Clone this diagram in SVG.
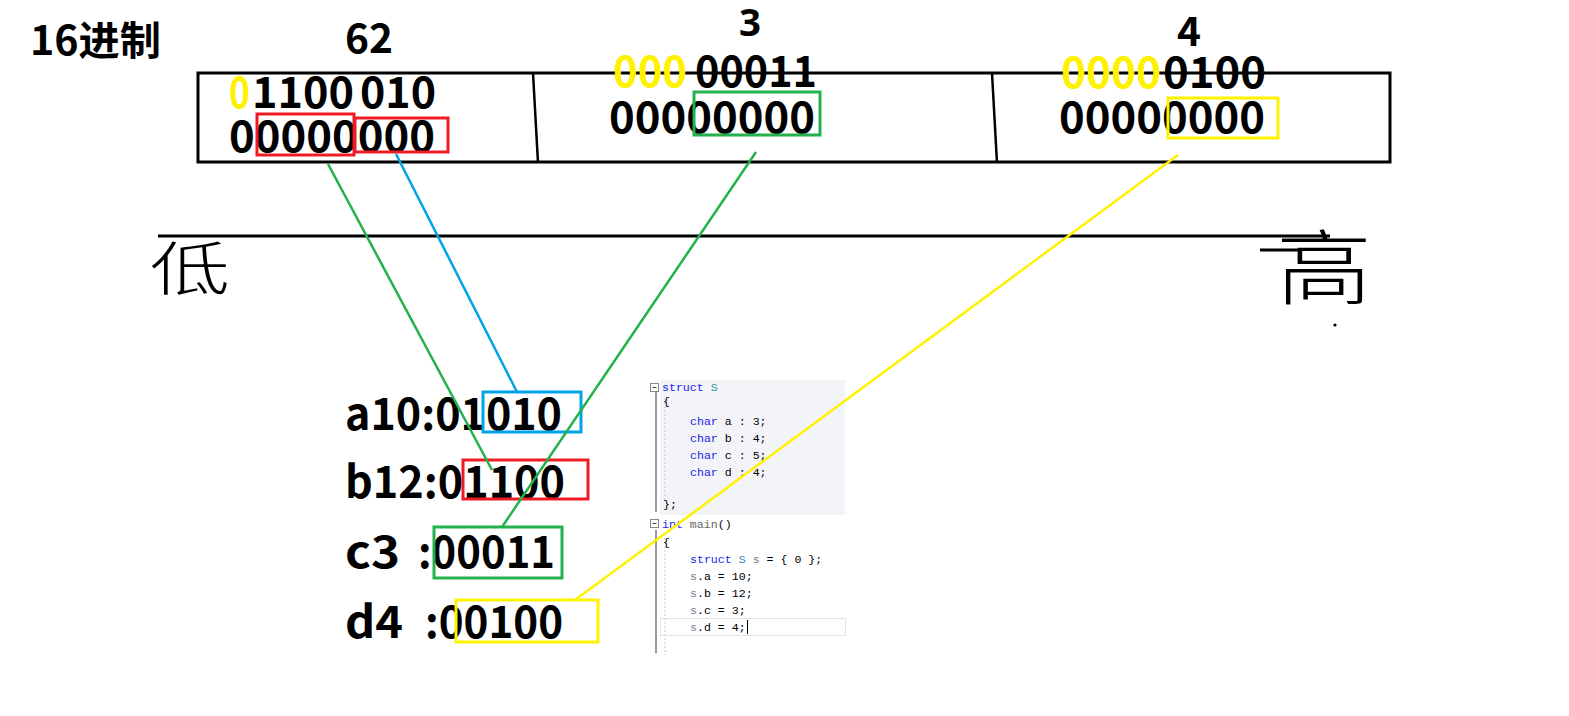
<svg xmlns="http://www.w3.org/2000/svg" width="1569" height="716" viewBox="0 0 1569 716">
<style>
.big{font-family:"Noto Sans CJK SC","Noto Sans",sans-serif;font-weight:700;fill:#000}
.num{font-family:"Noto Sans",sans-serif;font-weight:700;fill:#000}
.yl{fill:#fff200}
.hand{font-family:"Noto Sans CJK SC",sans-serif;font-weight:300;fill:#000}
.code{font-family:"Liberation Mono",monospace;font-size:11.6px;fill:#000}
.kw{fill:#2222ee}
.ty{fill:#2b91af}
.var{fill:#7a7a9a}
.fn{fill:#666}
.box{fill:none;stroke-width:3}
.ln{stroke-width:2.5;fill:none}
</style>
<rect width="1569" height="716" fill="#fff"/>
<g id="title"><text class="big" x="30" y="55" font-size="40" textLength="131" lengthAdjust="spacingAndGlyphs">16进制</text></g>
<g id="memory">
<rect x="198" y="73" width="1192" height="89" fill="none" stroke="#000" stroke-width="3"/>
<line x1="533" y1="73" x2="538" y2="163" stroke="#000" stroke-width="2.5"/>
<line x1="992" y1="73" x2="997" y2="163" stroke="#000" stroke-width="2.5"/>
</g>
<g id="cell1">
<text class="big" x="345" y="53" font-size="40" textLength="48" lengthAdjust="spacingAndGlyphs">62</text>
<text class="big yl" x="229" y="108" font-size="43" textLength="21" lengthAdjust="spacingAndGlyphs">0</text>
<text class="big" x="252" y="108" font-size="43" textLength="102" lengthAdjust="spacingAndGlyphs">1100</text>
<text class="big" x="360" y="108" font-size="43" textLength="76" lengthAdjust="spacingAndGlyphs">010</text>
<text class="big" x="229" y="152" font-size="43" textLength="206" lengthAdjust="spacingAndGlyphs">00000000</text>
<rect class="box" x="257" y="114" width="97" height="41" stroke="#ed1c24"/>
<rect class="box" x="355" y="118" width="93" height="34" stroke="#ed1c24"/>
</g>
<g id="cell2">
<text class="num" x="739" y="36" font-size="38" textLength="22" lengthAdjust="spacingAndGlyphs">3</text>
<text class="big yl" x="613" y="87" font-size="43" textLength="74" lengthAdjust="spacingAndGlyphs">000</text>
<text class="big" x="695" y="87" font-size="43" textLength="122" lengthAdjust="spacingAndGlyphs">00011</text>
<text class="big" x="609" y="133" font-size="43" textLength="206" lengthAdjust="spacingAndGlyphs">00000000</text>
<rect class="box" x="694" y="92" width="126" height="43" stroke="#22b14c"/>
</g>
<g id="cell3">
<text class="big" x="1177" y="46" font-size="40" textLength="24" lengthAdjust="spacingAndGlyphs">4</text>
<text class="big yl" x="1061" y="88" font-size="43" textLength="100" lengthAdjust="spacingAndGlyphs">0000</text>
<text class="big" x="1163" y="88" font-size="43" textLength="103" lengthAdjust="spacingAndGlyphs">0100</text>
<text class="big" x="1059" y="133" font-size="43" textLength="206" lengthAdjust="spacingAndGlyphs">00000000</text>
<rect class="box" x="1168" y="98" width="110" height="40" stroke="#fff200"/>
</g>
<g id="axis">
<line x1="158" y1="236" x2="1330" y2="236" stroke="#000" stroke-width="3"/>
<line x1="1260" y1="250" x2="1300" y2="250" stroke="#000" stroke-width="3"/>
<text class="hand" x="150" y="290" font-size="58" textLength="80" lengthAdjust="spacingAndGlyphs">低</text>
<text class="hand" x="1276" y="298" font-size="82" textLength="96" lengthAdjust="spacingAndGlyphs">高</text>
<circle cx="1335" cy="325" r="1.6" fill="#000"/>
</g>
<g id="fields">
<text class="big" x="345" y="430" font-size="44" textLength="217" lengthAdjust="spacingAndGlyphs">a10:01010</text>
<rect class="box" x="483" y="392" width="98" height="40" stroke="#00a2e8"/>
<text class="big" x="345" y="498" font-size="44" textLength="220" lengthAdjust="spacingAndGlyphs">b12:01100</text>
<rect class="box" x="463" y="460" width="125" height="39" stroke="#ed1c24"/>
<text class="big" x="345" y="568" font-size="44" textLength="55" lengthAdjust="spacingAndGlyphs">c3</text>
<text class="big" x="418" y="568" font-size="44" textLength="137" lengthAdjust="spacingAndGlyphs">:00011</text>
<rect class="box" x="434" y="527" width="128" height="51" stroke="#22b14c"/>
<text class="big" x="345" y="638" font-size="44" textLength="58" lengthAdjust="spacingAndGlyphs">d4</text>
<text class="big" x="425" y="638" font-size="44" textLength="138" lengthAdjust="spacingAndGlyphs">:00100</text>
<rect class="box" x="456" y="600" width="142" height="42" stroke="#fff200"/>
</g>
<g id="code">
<rect x="660" y="380" width="185" height="135" fill="#f3f4f7"/>
<line x1="656" y1="390" x2="656" y2="512" stroke="#9a9a9a" stroke-width="2"/>
<line x1="656" y1="530" x2="656" y2="653" stroke="#9a9a9a" stroke-width="2"/>
<line x1="665" y1="398" x2="665" y2="502" stroke="#c8c8c8" stroke-width="1" stroke-dasharray="2,2"/>
<line x1="665" y1="538" x2="665" y2="655" stroke="#c8c8c8" stroke-width="1" stroke-dasharray="2,2"/>
<rect x="650.5" y="383.5" width="8" height="8" fill="#fff" stroke="#888" stroke-width="1"/>
<line x1="652.5" y1="387.5" x2="656.5" y2="387.5" stroke="#444" stroke-width="1"/>
<rect x="650.5" y="519.5" width="8" height="8" fill="#fff" stroke="#888" stroke-width="1"/>
<line x1="652.5" y1="523.5" x2="656.5" y2="523.5" stroke="#444" stroke-width="1"/>
<rect x="660.5" y="618.5" width="185" height="17" fill="none" stroke="#e2e2e2" stroke-width="1"/>
<text class="code" x="662" y="391"><tspan class="kw">struct</tspan> <tspan class="ty">S</tspan></text>
<text class="code" x="663" y="405">{</text>
<text class="code" x="690" y="425"><tspan class="kw">char</tspan> a : 3;</text>
<text class="code" x="690" y="442"><tspan class="kw">char</tspan> b : 4;</text>
<text class="code" x="690" y="459"><tspan class="kw">char</tspan> c : 5;</text>
<text class="code" x="690" y="476"><tspan class="kw">char</tspan> d : 4;</text>
<text class="code" x="663" y="508">};</text>
<text class="code" x="662" y="528"><tspan class="kw">int</tspan> <tspan class="fn">main</tspan>()</text>
<text class="code" x="663" y="546">{</text>
<text class="code" x="690" y="563"><tspan class="kw">struct</tspan> <tspan class="ty">S</tspan> <tspan class="var">s</tspan> = { 0 };</text>
<text class="code" x="690" y="580"><tspan class="var">s</tspan>.a = 10;</text>
<text class="code" x="690" y="597"><tspan class="var">s</tspan>.b = 12;</text>
<text class="code" x="690" y="614"><tspan class="var">s</tspan>.c = 3;</text>
<text class="code" x="690" y="631"><tspan class="var">s</tspan>.d = 4;</text>
<line x1="747.5" y1="620" x2="747.5" y2="634" stroke="#000" stroke-width="1"/>
</g>
<g id="connectors">
<line class="ln" x1="328" y1="164" x2="492" y2="470" stroke="#22b14c"/>
<line class="ln" x1="396" y1="154" x2="517" y2="392" stroke="#00a2e8"/>
<line class="ln" x1="756" y1="152" x2="502" y2="527" stroke="#22b14c"/>
<line class="ln" x1="1178" y1="155" x2="575" y2="600" stroke="#fff200"/>
</g>
</svg>
